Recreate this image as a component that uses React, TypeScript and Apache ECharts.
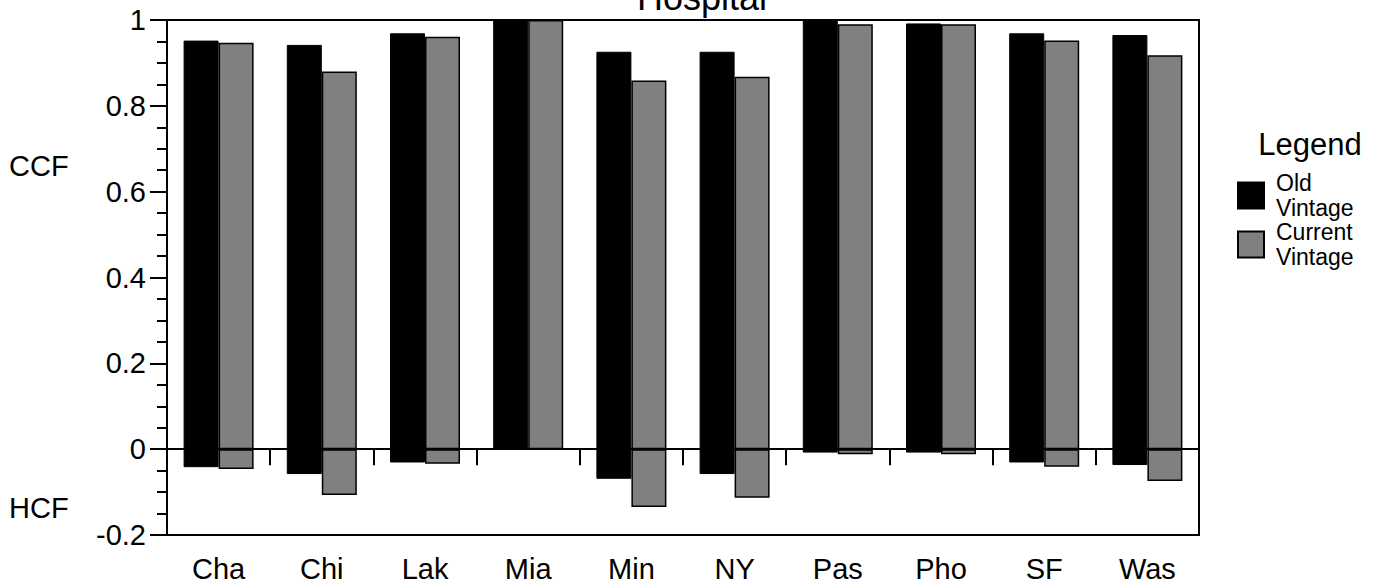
import React, { useEffect, useRef } from "react";
import * as echarts from "echarts";

const categories = ["Cha", "Chi", "Lak", "Mia", "Min", "NY", "Pas", "Pho", "SF", "Was"];
const oldPos = [0.952, 0.942, 0.969, 1.0, 0.926, 0.926, 1.0, 0.992, 0.969, 0.965];
const oldNeg = [-0.042, -0.058, -0.031, 0, -0.069, -0.058, -0.008, -0.008, -0.031, -0.037];
const curPos = [0.947, 0.88, 0.961, 1.0, 0.859, 0.868, 0.99, 0.99, 0.952, 0.918];
const curNeg = [-0.046, -0.107, -0.034, 0, -0.135, -0.113, -0.012, -0.012, -0.041, -0.074];
const yTicks = { min: -0.2, max: 1, interval: 0.2 };
const seriesNames = ["Old Vintage", "Current Vintage"];

const FONT = "'Liberation Sans', Arial, sans-serif";

export default function App() {
  const ref = useRef<HTMLDivElement>(null);
  useEffect(() => {
    document.body.style.margin = "0";
    const chart = echarts.init(ref.current!, null, { renderer: "svg" });
    const oldStyle = { color: "#000000", borderColor: "#000000", borderWidth: 1 };
    const curStyle = { color: "#808080", borderColor: "#000000", borderWidth: 1.5 };
    const barCommon = { type: "bar", barWidth: 35, barGap: "0%", xAxisIndex: 0, yAxisIndex: 0 };
    chart.setOption({
      animation: false,
      textStyle: { fontFamily: FONT, color: "#000" },
      grid: {
        left: 167, right: 179, top: 20, bottom: 53,
        show: true, borderColor: "#000", borderWidth: 2, backgroundColor: "transparent",
      },
      legend: {
        data: seriesNames,
        orient: "vertical",
        left: 1237,
        top: 171,
        padding: 0,
        itemWidth: 26,
        itemHeight: 26,
        itemGap: 0,
        icon: "rect",
        formatter: (n: string) => n.replace(" ", "\n"),
        textStyle: { fontSize: 23, lineHeight: 24.5, color: "#000", fontFamily: FONT, padding: [0, 0, 0, 7] },
        selectedMode: false,
      },
      xAxis: [
        {
          type: "category",
          data: categories,
          position: "bottom",
          axisLine: { show: false, onZero: false },
          axisTick: { show: false },
          axisLabel: { fontSize: 29, color: "#000", fontFamily: FONT, margin: 19, interval: 0 },
        },
        {
          type: "category",
          data: categories,
          position: "bottom",
          axisLine: { show: true, onZero: true, lineStyle: { color: "#000", width: 2 } },
          axisTick: { show: true, length: 16, lineStyle: { color: "#000", width: 2 } },
          axisLabel: { show: false },
        },
      ],
      yAxis: {
        type: "value",
        min: yTicks.min,
        max: yTicks.max,
        interval: yTicks.interval,
        axisLine: { show: true, onZero: false, lineStyle: { color: "#000", width: 2 } },
        axisTick: { show: true, length: 17, lineStyle: { color: "#000", width: 2 } },
        minorTick: { show: true, splitNumber: 4, length: 10, lineStyle: { color: "#000", width: 2 } },
        splitLine: { show: false },
        axisLabel: { fontSize: 29, color: "#000", fontFamily: FONT, margin: 21 },
      },
      series: [
        { ...barCommon, name: seriesNames[0], stack: "old", data: oldPos, itemStyle: oldStyle },
        { ...barCommon, name: seriesNames[0], stack: "old", data: oldNeg, itemStyle: oldStyle },
        { ...barCommon, name: seriesNames[1], stack: "cur", data: curPos, itemStyle: curStyle },
        { ...barCommon, name: seriesNames[1], stack: "cur", data: curNeg, itemStyle: curStyle },
      ],
      graphic: [
        { type: "text", x: 702, y: -2.5, style: { text: "Hospital", fontSize: 36, fontFamily: FONT, fill: "#000", textAlign: "center", textVerticalAlign: "middle" } },
        { type: "text", x: 1310, y: 144, style: { text: "Legend", fontSize: 31, fontFamily: FONT, fill: "#000", textAlign: "center", textVerticalAlign: "middle" } },
        { type: "text", x: 9, y: 166, style: { text: "CCF", fontSize: 29, fontFamily: FONT, fill: "#000", textAlign: "left", textVerticalAlign: "middle" } },
        { type: "text", x: 9, y: 508, style: { text: "HCF", fontSize: 29, fontFamily: FONT, fill: "#000", textAlign: "left", textVerticalAlign: "middle" } },
      ],
    });
    return () => chart.dispose();
  }, []);
  return <div ref={ref} style={{ width: 1378, height: 588 }} />;
}
